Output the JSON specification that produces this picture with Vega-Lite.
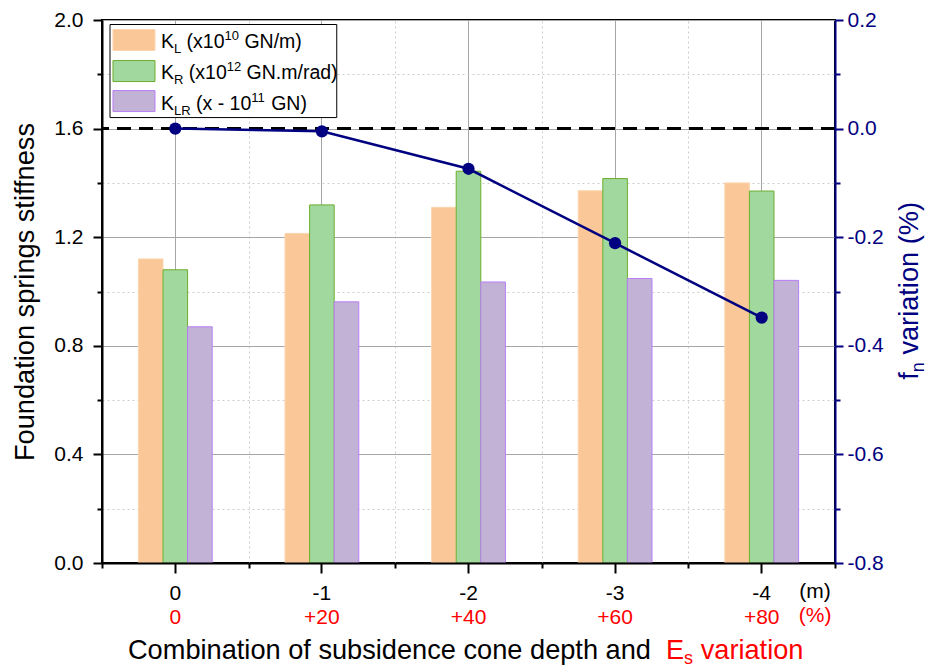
{
"$schema": "https://vega.github.io/schema/vega-lite/v6.json",
"width": 733, "height": 543,
"autosize": {"type": "none"},
"padding": {"left": 102, "top": 20, "right": 92, "bottom": 107},
"background": "white",
"config": {"font": "Liberation Sans", "view": {"stroke": "black", "strokeWidth": 2}},
"datasets": {
 "bars": [
  {"depth": "0", "series": "KL", "value": 1.12}, {"depth": "0", "series": "KR", "value": 1.08}, {"depth": "0", "series": "KLR", "value": 0.87},
  {"depth": "-1", "series": "KL", "value": 1.214}, {"depth": "-1", "series": "KR", "value": 1.319}, {"depth": "-1", "series": "KLR", "value": 0.962},
  {"depth": "-2", "series": "KL", "value": 1.31}, {"depth": "-2", "series": "KR", "value": 1.443}, {"depth": "-2", "series": "KLR", "value": 1.035},
  {"depth": "-3", "series": "KL", "value": 1.371}, {"depth": "-3", "series": "KR", "value": 1.416}, {"depth": "-3", "series": "KLR", "value": 1.048},
  {"depth": "-4", "series": "KL", "value": 1.40}, {"depth": "-4", "series": "KR", "value": 1.370}, {"depth": "-4", "series": "KLR", "value": 1.041}
 ],
 "fn": [
  {"depth": "0", "fn": 0.0}, {"depth": "-1", "fn": -0.005}, {"depth": "-2", "fn": -0.074}, {"depth": "-3", "fn": -0.211}, {"depth": "-4", "fn": -0.348}
 ]
},
"layer": [
 {
  "data": {"name": "bars"},
  "mark": {"type": "bar", "strokeWidth": 1},
  "encoding": {
   "x": {"field": "depth", "type": "nominal",
     "scale": {"type": "band", "domain": ["0", "-1", "-2", "-3", "-4"], "paddingInner": 0, "paddingOuter": 0},
     "axis": {"orient": "bottom", "title": null, "labelFontSize": 21, "labelColor": "black", "labelPadding": 9, "labelAngle": 0,
       "ticks": true, "tickSize": 10, "tickWidth": 2, "tickColor": "black", "domain": false,
       "grid": true, "gridColor": "#a6a6a6", "gridWidth": 1}},
   "xOffset": {"field": "series", "type": "nominal", "scale": {"domain": ["_a", "KL", "KR", "KLR", "_b"], "paddingInner": 0, "paddingOuter": 0.48}},
   "y": {"field": "value", "type": "quantitative", "scale": {"domain": [0, 2]},
     "axis": {"orient": "left", "title": "Foundation springs stiffness", "titleFontSize": 27.2, "titleFontWeight": "normal", "titleColor": "black", "titlePadding": 14,
       "values": [0, 0.2, 0.4, 0.6, 0.8, 1, 1.2, 1.4, 1.6, 1.8, 2], "format": ".1f",
       "labelExpr": "round(datum.value*10)%4==0 ? datum.label : ''",
       "labelFontSize": 21, "labelColor": "black", "labelPadding": 10,
       "domain": true, "domainColor": "black", "domainWidth": 2,
       "tickColor": "black", "tickWidth": 2,
       "tickSize": {"condition": {"test": "round(datum.value*10)%4==0", "value": 9}, "value": 5},
       "grid": true,
       "gridColor": {"condition": {"test": "round(datum.value*10)%4==0", "value": "#a6a6a6"}, "value": "#cccccc"},
       "gridDash": {"condition": {"test": "round(datum.value*10)%4==0", "value": []}, "value": [2, 3]}}},
   "fill": {"field": "series", "type": "nominal", "scale": {"domain": ["KL", "KR", "KLR"], "range": ["#FAC898", "#A0D89E", "#C2B2D6"]}, "legend": null},
   "stroke": {"field": "series", "type": "nominal", "scale": {"domain": ["KL", "KR", "KLR"], "range": ["#FCD5AE", "#6DAE2B", "#B97DF7"]}, "legend": null}
  }
 },
 {
  "data": {"values": [{}]},
  "mark": {"type": "rule", "strokeDash": [14, 8], "strokeWidth": 3, "color": "black"},
  "encoding": {"y": {"datum": 1.6, "type": "quantitative", "scale": {"domain": [0, 2]}, "axis": null}}
 },
 {
  "data": {"values": [{}]},
  "mark": {"type": "rect", "fill": "white", "stroke": "black", "strokeWidth": 1},
  "encoding": {
   "x": {"datum": "0", "type": "nominal", "bandPosition": 0.0546, "axis": null},
   "x2": {"datum": "-1", "bandPosition": 0.6013},
   "y": {"datum": 1.9834, "type": "quantitative", "scale": {"domain": [0, 2]}, "axis": null},
   "y2": {"datum": 1.6406}
  }
 },
 {
  "data": {"values": [{}]},
  "mark": {"type": "rect", "fill": "#FAC898", "stroke": "#FCD5AE", "strokeWidth": 1},
  "encoding": {
   "x": {"datum": "0", "type": "nominal", "bandPosition": 0.075, "axis": null},
   "x2": {"datum": "0", "bandPosition": 0.3615},
   "y": {"datum": 1.965, "type": "quantitative", "scale": {"domain": [0, 2]}, "axis": null},
   "y2": {"datum": 1.8876}
  }
 },
 {
  "data": {"values": [{}]},
  "mark": {"type": "rect", "fill": "#A0D89E", "stroke": "#6DAE2B", "strokeWidth": 1},
  "encoding": {
   "x": {"datum": "0", "type": "nominal", "bandPosition": 0.075, "axis": null},
   "x2": {"datum": "0", "bandPosition": 0.3615},
   "y": {"datum": 1.8507, "type": "quantitative", "scale": {"domain": [0, 2]}, "axis": null},
   "y2": {"datum": 1.7733}
  }
 },
 {
  "data": {"values": [{}]},
  "mark": {"type": "rect", "fill": "#C2B2D6", "stroke": "#B97DF7", "strokeWidth": 1},
  "encoding": {
   "x": {"datum": "0", "type": "nominal", "bandPosition": 0.075, "axis": null},
   "x2": {"datum": "0", "bandPosition": 0.3615},
   "y": {"datum": 1.7401, "type": "quantitative", "scale": {"domain": [0, 2]}, "axis": null},
   "y2": {"datum": 1.6627}
  }
 },
 {"data": {"values": [{}]}, "mark": {"type": "text", "text": "K", "align": "left", "baseline": "alphabetic", "fontSize": 19.5, "color": "black"},
  "encoding": {"x": {"datum": "0", "type": "nominal", "bandPosition": 0.4025, "axis": null}, "y": {"datum": 1.8986, "type": "quantitative", "scale": {"domain": [0, 2]}, "axis": null}}},
 {"data": {"values": [{}]}, "mark": {"type": "text", "text": "L", "align": "left", "baseline": "alphabetic", "fontSize": 13, "dx": 13, "dy": 5, "color": "black"},
  "encoding": {"x": {"datum": "0", "type": "nominal", "bandPosition": 0.4025, "axis": null}, "y": {"datum": 1.8986, "type": "quantitative", "scale": {"domain": [0, 2]}, "axis": null}}},
 {"data": {"values": [{}]}, "mark": {"type": "text", "text": "(x10", "align": "left", "baseline": "alphabetic", "fontSize": 19.5, "dx": 25.6, "color": "black"},
  "encoding": {"x": {"datum": "0", "type": "nominal", "bandPosition": 0.4025, "axis": null}, "y": {"datum": 1.8986, "type": "quantitative", "scale": {"domain": [0, 2]}, "axis": null}}},
 {"data": {"values": [{}]}, "mark": {"type": "text", "text": "10", "align": "left", "baseline": "alphabetic", "fontSize": 13, "dx": 63.5, "dy": -8, "color": "black"},
  "encoding": {"x": {"datum": "0", "type": "nominal", "bandPosition": 0.4025, "axis": null}, "y": {"datum": 1.8986, "type": "quantitative", "scale": {"domain": [0, 2]}, "axis": null}}},
 {"data": {"values": [{}]}, "mark": {"type": "text", "text": "GN/m)", "align": "left", "baseline": "alphabetic", "fontSize": 19.5, "dx": 83.4, "color": "black"},
  "encoding": {"x": {"datum": "0", "type": "nominal", "bandPosition": 0.4025, "axis": null}, "y": {"datum": 1.8986, "type": "quantitative", "scale": {"domain": [0, 2]}, "axis": null}}},
 {"data": {"values": [{}]}, "mark": {"type": "text", "text": "K", "align": "left", "baseline": "alphabetic", "fontSize": 19.5, "color": "black"},
  "encoding": {"x": {"datum": "0", "type": "nominal", "bandPosition": 0.4025, "axis": null}, "y": {"datum": 1.7843, "type": "quantitative", "scale": {"domain": [0, 2]}, "axis": null}}},
 {"data": {"values": [{}]}, "mark": {"type": "text", "text": "R", "align": "left", "baseline": "alphabetic", "fontSize": 13, "dx": 13, "dy": 5, "color": "black"},
  "encoding": {"x": {"datum": "0", "type": "nominal", "bandPosition": 0.4025, "axis": null}, "y": {"datum": 1.7843, "type": "quantitative", "scale": {"domain": [0, 2]}, "axis": null}}},
 {"data": {"values": [{}]}, "mark": {"type": "text", "text": "(x10", "align": "left", "baseline": "alphabetic", "fontSize": 19.5, "dx": 27.8, "color": "black"},
  "encoding": {"x": {"datum": "0", "type": "nominal", "bandPosition": 0.4025, "axis": null}, "y": {"datum": 1.7843, "type": "quantitative", "scale": {"domain": [0, 2]}, "axis": null}}},
 {"data": {"values": [{}]}, "mark": {"type": "text", "text": "12", "align": "left", "baseline": "alphabetic", "fontSize": 13, "dx": 65.7, "dy": -8, "color": "black"},
  "encoding": {"x": {"datum": "0", "type": "nominal", "bandPosition": 0.4025, "axis": null}, "y": {"datum": 1.7843, "type": "quantitative", "scale": {"domain": [0, 2]}, "axis": null}}},
 {"data": {"values": [{}]}, "mark": {"type": "text", "text": "GN.m/rad)", "align": "left", "baseline": "alphabetic", "fontSize": 19.5, "dx": 85.6, "color": "black"},
  "encoding": {"x": {"datum": "0", "type": "nominal", "bandPosition": 0.4025, "axis": null}, "y": {"datum": 1.7843, "type": "quantitative", "scale": {"domain": [0, 2]}, "axis": null}}},
 {"data": {"values": [{}]}, "mark": {"type": "text", "text": "K", "align": "left", "baseline": "alphabetic", "fontSize": 19.5, "color": "black"},
  "encoding": {"x": {"datum": "0", "type": "nominal", "bandPosition": 0.4025, "axis": null}, "y": {"datum": 1.67, "type": "quantitative", "scale": {"domain": [0, 2]}, "axis": null}}},
 {"data": {"values": [{}]}, "mark": {"type": "text", "text": "LR", "align": "left", "baseline": "alphabetic", "fontSize": 13, "dx": 13, "dy": 5, "color": "black"},
  "encoding": {"x": {"datum": "0", "type": "nominal", "bandPosition": 0.4025, "axis": null}, "y": {"datum": 1.67, "type": "quantitative", "scale": {"domain": [0, 2]}, "axis": null}}},
 {"data": {"values": [{}]}, "mark": {"type": "text", "text": "(x - 10", "align": "left", "baseline": "alphabetic", "fontSize": 19.5, "dx": 35.0, "color": "black"},
  "encoding": {"x": {"datum": "0", "type": "nominal", "bandPosition": 0.4025, "axis": null}, "y": {"datum": 1.67, "type": "quantitative", "scale": {"domain": [0, 2]}, "axis": null}}},
 {"data": {"values": [{}]}, "mark": {"type": "text", "text": "11", "align": "left", "baseline": "alphabetic", "fontSize": 13, "dx": 90.3, "dy": -8, "color": "black"},
  "encoding": {"x": {"datum": "0", "type": "nominal", "bandPosition": 0.4025, "axis": null}, "y": {"datum": 1.67, "type": "quantitative", "scale": {"domain": [0, 2]}, "axis": null}}},
 {"data": {"values": [{}]}, "mark": {"type": "text", "text": "GN)", "align": "left", "baseline": "alphabetic", "fontSize": 19.5, "dx": 110.2, "color": "black"},
  "encoding": {"x": {"datum": "0", "type": "nominal", "bandPosition": 0.4025, "axis": null}, "y": {"datum": 1.67, "type": "quantitative", "scale": {"domain": [0, 2]}, "axis": null}}},
 {"data": {"values": [{}]}, "mark": {"type": "text", "text": "(m)", "align": "center", "baseline": "middle", "fontSize": 21, "color": "black"},
  "encoding": {"x": {"datum": "-4", "type": "nominal", "bandPosition": 0.864, "axis": null}, "y": {"datum": -0.1069, "type": "quantitative", "scale": {"domain": [0, 2]}, "axis": null}}},
 {"data": {"values": [{}]}, "mark": {"type": "text", "text": "(%)", "align": "center", "baseline": "middle", "fontSize": 21, "color": "#FF0000"},
  "encoding": {"x": {"datum": "-4", "type": "nominal", "bandPosition": 0.864, "axis": null}, "y": {"datum": -0.1954, "type": "quantitative", "scale": {"domain": [0, 2]}, "axis": null}}},
 {"data": {"values": [{}]}, "mark": {"type": "text", "text": "Combination of subsidence cone depth and", "align": "right", "baseline": "alphabetic", "fontSize": 27.2, "dx": -15, "color": "black"},
  "encoding": {"x": {"datum": "-3", "type": "nominal", "bandPosition": 0.847, "axis": null}, "y": {"datum": -0.354, "type": "quantitative", "scale": {"domain": [0, 2]}, "axis": null}}},
 {"data": {"values": [{}]}, "mark": {"type": "text", "text": "E", "align": "left", "baseline": "alphabetic", "fontSize": 27.2, "color": "#FF0000"},
  "encoding": {"x": {"datum": "-3", "type": "nominal", "bandPosition": 0.847, "axis": null}, "y": {"datum": -0.354, "type": "quantitative", "scale": {"domain": [0, 2]}, "axis": null}}},
 {"data": {"values": [{}]}, "mark": {"type": "text", "text": "s", "align": "left", "baseline": "alphabetic", "fontSize": 18, "dx": 18.1, "dy": 5, "color": "#FF0000"},
  "encoding": {"x": {"datum": "-3", "type": "nominal", "bandPosition": 0.847, "axis": null}, "y": {"datum": -0.354, "type": "quantitative", "scale": {"domain": [0, 2]}, "axis": null}}},
 {"data": {"values": [{}]}, "mark": {"type": "text", "text": "variation", "align": "left", "baseline": "alphabetic", "fontSize": 27.2, "dx": 34.7, "color": "#FF0000"},
  "encoding": {"x": {"datum": "-3", "type": "nominal", "bandPosition": 0.847, "axis": null}, "y": {"datum": -0.354, "type": "quantitative", "scale": {"domain": [0, 2]}, "axis": null}}},
 {"data": {"values": [{}]}, "mark": {"type": "text", "text": "f", "align": "left", "baseline": "alphabetic", "fontSize": 27.2, "angle": 270, "color": "#000080"},
  "encoding": {"x": {"datum": "-4", "type": "nominal", "bandPosition": 1.566, "axis": null}, "y": {"datum": 0.6747, "type": "quantitative", "scale": {"domain": [0, 2]}, "axis": null}}},
 {"data": {"values": [{}]}, "mark": {"type": "text", "text": "n", "align": "left", "baseline": "alphabetic", "fontSize": 18, "angle": 270, "dx": 7.6, "dy": 6, "color": "#000080"},
  "encoding": {"x": {"datum": "-4", "type": "nominal", "bandPosition": 1.566, "axis": null}, "y": {"datum": 0.6747, "type": "quantitative", "scale": {"domain": [0, 2]}, "axis": null}}},
 {"data": {"values": [{}]}, "mark": {"type": "text", "text": "variation (%)", "align": "left", "baseline": "alphabetic", "fontSize": 27.2, "angle": 270, "dx": 25.2, "color": "#000080"},
  "encoding": {"x": {"datum": "-4", "type": "nominal", "bandPosition": 1.566, "axis": null}, "y": {"datum": 0.6747, "type": "quantitative", "scale": {"domain": [0, 2]}, "axis": null}}},
 {
  "data": {"name": "fn"},
  "mark": {"type": "line", "color": "#000080", "strokeWidth": 2.5, "point": {"filled": true, "size": 150, "color": "#000080"}},
  "encoding": {
   "x": {"field": "depth", "type": "nominal",
     "scale": {"type": "band", "domain": ["0", "-1", "-2", "-3", "-4"], "paddingInner": 0, "paddingOuter": 0},
     "axis": {"orient": "bottom", "title": null,
       "labelExpr": "['0','+20','+40','+60','+80'][indexof(['0','-1','-2','-3','-4'], datum.value)]",
       "labelColor": "#FF0000", "labelFontSize": 21, "labelPadding": 43, "labelAngle": 0,
       "ticks": false, "tickSize": 0, "domain": true, "domainColor": "black", "domainWidth": 2, "grid": false, "zindex": 1}},
   "y": {"field": "fn", "type": "quantitative", "scale": {"domain": [-0.8, 0.2]},
     "axis": {"orient": "right", "title": null,
       "values": [-0.8, -0.7, -0.6, -0.5, -0.4, -0.3, -0.2, -0.1, 0, 0.1, 0.2],
       "labelExpr": "round(datum.value*10)%2==0 ? replace(format(datum.value, '.1f'), '\u2212', '-') : ''",
       "labelFontSize": 21, "labelColor": "#000080", "labelPadding": 4,
       "domain": true, "domainColor": "#000080", "domainWidth": 2,
       "tickColor": "#000080", "tickWidth": 2,
       "tickSize": {"condition": {"test": "round(datum.value*10)%2==0", "value": 8}, "value": 5},
       "grid": false, "zindex": 1}},
   "order": {"value": null}
  }
 },
 {
  "data": {"name": "fn"},
  "mark": {"type": "rule", "opacity": 0},
  "encoding": {
   "x": {"field": "depth", "type": "nominal",
     "scale": {"type": "band", "domain": ["0", "-1", "-2", "-3", "-4"], "paddingInner": 0, "paddingOuter": 0},
     "axis": {"orient": "bottom", "title": null, "tickBand": "extent", "labels": false, "domain": false,
       "ticks": true, "tickSize": 5, "tickWidth": 2, "tickColor": "black",
       "grid": true, "gridColor": "#cccccc", "gridDash": [2, 3], "gridWidth": 1}}
  }
 }
],
"resolve": {"scale": {"y": "independent"}, "axis": {"x": "independent", "y": "independent"}}
}
